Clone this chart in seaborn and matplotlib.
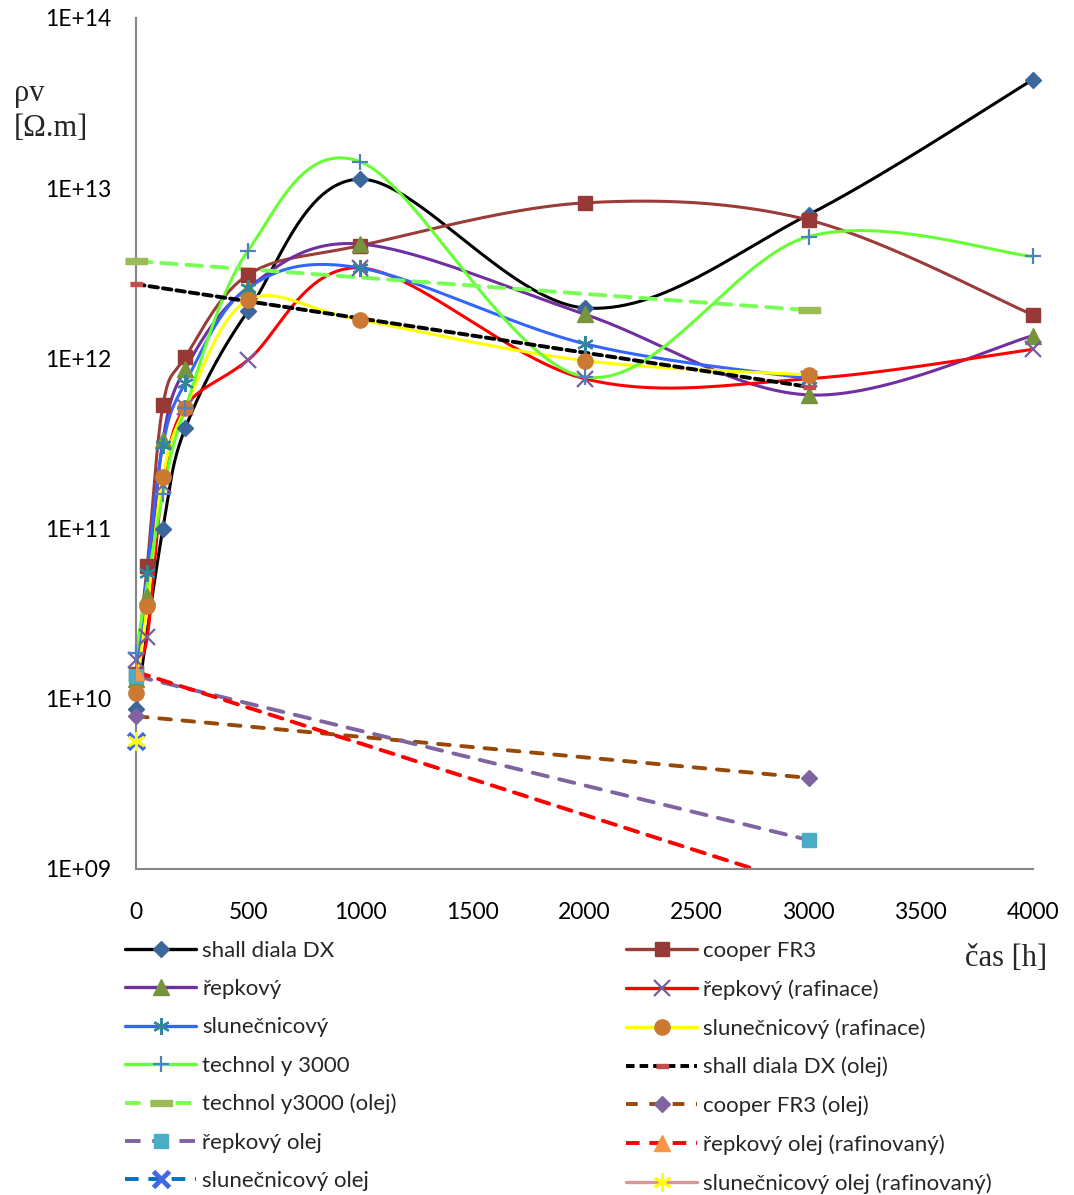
import numpy as np
import seaborn as sns
import matplotlib
matplotlib.use('Agg')
import matplotlib.pyplot as plt
from matplotlib.lines import Line2D
from matplotlib.ticker import FixedLocator, FuncFormatter

# --- data (hours, volume resistivity in Ohm.m) ---
shell_x = [0, 120, 220, 500, 1000, 2000, 3000, 4000]
shell_y = [8.7e9, 1.0e11, 3.9e11, 1.9e12, 1.13e13, 1.98e12, 7.0e12, 4.35e13]

cooper_x = [0, 50, 120, 220, 500, 1000, 2000, 3000, 4000]
cooper_y = [1.4e10, 6.0e10, 5.3e11, 1.02e12, 3.1e12, 4.6e12, 8.2e12, 6.5e12, 1.8e12]

repka_x = [0, 50, 120, 220, 500, 1000, 2000, 3000, 4000]
repka_y = [1.3e10, 4.0e10, 3.3e11, 8.7e11, 2.6e12, 4.7e12, 1.82e12, 6.1e11, 1.36e12]

repka_raf_x = [0, 50, 120, 220, 500, 1000, 2000, 3000, 4000]
repka_raf_y = [1.7e10, 2.3e10, 1.8e11, 5.2e11, 9.8e11, 3.4e12, 7.6e11, 7.6e11, 1.13e12]

sun_x = [0, 50, 120, 220, 500, 1000, 2000, 3000]
sun_y = [1.35e10, 5.5e10, 3.1e11, 7.2e11, 2.6e12, 3.4e12, 1.22e12, 7.6e11]

sun_raf_x = [0, 50, 120, 220, 500, 1000, 2000, 3000]
sun_raf_y = [1.08e10, 3.5e10, 2.0e11, 5.1e11, 2.2e12, 1.68e12, 9.7e11, 8.0e11]

tech_x = [0, 120, 220, 500, 1000, 2000, 3000, 4000]
tech_y = [1.86e10, 1.6e11, 5.1e11, 4.3e12, 1.43e13, 7.8e11, 5.2e12, 3.97e12]

# oil-only reference series (straight dashed lines)
oil_x = [0, 3000]
shell_oil_y = [2.73e12, 6.8e11]
tech_oil_y = [3.73e12, 1.92e12]
cooper_oil_y = [7.9e9, 3.43e9]
repka_oil_y = [1.36e10, 1.48e9]
repka_raf_oil_y = [1.44e10, 7.9e8]
sun_oil_x = [0]
sun_oil_y = [5.65e9]
sun_raf_oil_y = [5.65e9]

labels = ['shall diala DX', 'cooper FR3', 'řepkový', 'řepkový (rafinace)',
          'slunečnicový', 'slunečnicový (rafinace)', 'technol y 3000',
          'shall diala DX (olej)', 'technol y3000 (olej)', 'cooper FR3 (olej)',
          'řepkový olej', 'řepkový olej (rafinovaný)', 'slunečnicový olej',
          'slunečnicový olej (rafinovaný)']
y_ticks = [1e9, 1e10, 1e11, 1e12, 1e13, 1e14]
x_ticks = list(range(0, 4001, 500))
Y_MIN, Y_MAX = 1e9, 1e14


def smooth(xs, ys, n=60):
    """Excel-like smoothed line: cubic Bezier through points (log y space)."""
    pts = np.column_stack([np.asarray(xs, float), np.log10(ys)])
    ext = np.vstack([pts[0], pts, pts[-1]])
    t = np.linspace(0, 1, n)[:, None]
    segs = []
    for i in range(len(pts) - 1):
        p0, p1, p2, p3 = ext[i], ext[i + 1], ext[i + 2], ext[i + 3]
        c1 = p1 + (p2 - p0) / 6
        c2 = p2 - (p3 - p1) / 6
        segs.append((1 - t) ** 3 * p1 + 3 * (1 - t) ** 2 * t * c1
                    + 3 * (1 - t) * t ** 2 * c2 + t ** 3 * p2)
    s = np.vstack(segs)
    return s[:, 0], 10 ** s[:, 1]


sns.set_theme(style='white')
plt.rcParams['font.family'] = ['Lato', 'DejaVu Sans']

fig = plt.figure(figsize=(10.74, 11.95), dpi=100)
ax = fig.add_axes([136 / 1074, 1 - 869 / 1195, (1033 - 136) / 1074, (869 - 18) / 1195])

rect_wide = [(-1, -0.3), (1, -0.3), (1, 0.3), (-1, 0.3)]

# style per series: line colour, line style, marker, marker colour, marker size, marker edge width
styles = [
    dict(color='black', ls='-', marker='D', mc='#3B679C', ms=8, mew=1),
    dict(color='#9A3C38', ls='-', marker='s', mc='#973A36', ms=10, mew=1),
    dict(color='#7030A0', ls='-', marker='^', mc='#77933C', ms=11, mew=1),
    dict(color='#FF0000', ls='-', marker='x', mc='#7A5C9C', ms=11, mew=1.6),
    dict(color='#3366FF', ls='-', marker=(6, 2, 0), mc='#31859C', ms=12, mew=1.6),
    dict(color='#FFFF00', ls='-', marker='o', mc='#CC7A33', ms=11, mew=1),
    dict(color='#66FF33', ls='-', marker='+', mc='#4F81BD', ms=12, mew=1.6),
    dict(color='black', ls=(0, (2.2, 1.3)), marker=rect_wide, mc='#C0504D', ms=9, mew=1),
    dict(color='#77FF55', ls=(0, (4, 2.5)), marker=rect_wide, mc='#9BBB59', ms=16, mew=1),
    dict(color='#984807', ls=(0, (3, 3)), marker='D', mc='#8064A2', ms=8, mew=1),
    dict(color='#8064A2', ls=(0, (4, 3)), marker='s', mc='#4BACC6', ms=10, mew=1),
    dict(color='#FF0000', ls=(0, (3.5, 2.5)), marker='^', mc='#F79646', ms=12, mew=1),
    dict(color='#0070C0', ls=(0, (3.5, 2.5)), marker='x', mc='#4169E1', ms=12, mew=3.5),
    dict(color='#D99694', ls='-', marker=(6, 2, 0), mc='#FFFF00', ms=13, mew=1.8),
]

smooth_series = [(shell_x, shell_y), (cooper_x, cooper_y), (repka_x, repka_y),
                 (repka_raf_x, repka_raf_y), (sun_x, sun_y), (sun_raf_x, sun_raf_y),
                 (tech_x, tech_y)]
straight_series = [(oil_x, shell_oil_y), (oil_x, tech_oil_y), (oil_x, cooper_oil_y),
                   (oil_x, repka_oil_y), (oil_x, repka_raf_oil_y),
                   (sun_oil_x, sun_oil_y), (sun_oil_x, sun_raf_oil_y)]


def draw_markers(xs, ys, st, z):
    # markers on the y axis must not be cut in half; only clip series leaving the range
    inside = all(Y_MIN <= v <= Y_MAX for v in ys)
    ax.plot(xs, ys, ls='none', marker=st['marker'], ms=st['ms'], color=st['mc'],
            mec=st['mc'], mew=st['mew'], zorder=z, clip_on=not inside)


for i, (xs, ys) in enumerate(smooth_series):
    st = styles[i]
    sx, sy = smooth(xs, ys)
    sns.lineplot(x=sx, y=sy, sort=False, estimator=None, color=st['color'],
                 lw=2.2, ax=ax, zorder=2 + i * 0.01)
    draw_markers(xs, ys, st, 3 + i * 0.01)

for j, (xs, ys) in enumerate(straight_series):
    st = styles[7 + j]
    if len(xs) > 1:
        ax.plot(xs, ys, ls=st['ls'], color=st['color'], lw=2.8,
                dash_capstyle='round', zorder=2.5)
    draw_markers(xs, ys, st, 3.5 + j * 0.01)

ax.set_yscale('log')
ax.set_ylim(Y_MIN, Y_MAX)
ax.set_xlim(0, 4000)
ax.yaxis.set_major_locator(FixedLocator(y_ticks))
ax.yaxis.set_minor_locator(FixedLocator([]))
ax.yaxis.set_major_formatter(FuncFormatter(lambda v, p: '1E+%02d' % round(np.log10(v))))
ax.set_xticks(x_ticks)
ax.tick_params(axis='both', length=0, labelsize=16.5, colors='black')
ax.tick_params(axis='y', pad=18)
ax.tick_params(axis='x', pad=24)
for side in ['top', 'right']:
    ax.spines[side].set_visible(False)
for side in ['left', 'bottom']:
    ax.spines[side].set_color('#868686')
    ax.spines[side].set_linewidth(1.5)
ax.grid(False)

fig.text(14 / 1074, 1 - 93 / 1195, 'ρv', family='Liberation Serif',
         fontsize=22, va='center', ha='left')
fig.text(14 / 1074, 1 - 129 / 1195, '[Ω.m]', family='Liberation Serif',
         fontsize=22, va='center', ha='left')
fig.text(965 / 1074, 1 - 958 / 1195, 'čas [h]', family='Liberation Serif',
         fontsize=22, va='center', ha='left')

# legend handles, two columns filled row by row
handles = []
for i, st in enumerate(styles):
    dashed = i >= 7 and i != 13
    handles.append(Line2D([], [], color=st['color'], ls=st['ls'],
                          lw=2.8 if dashed else 2.4, marker=st['marker'],
                          ms=st['ms'], mfc=st['mc'], mec=st['mc'], mew=st['mew']))

leg_kw = dict(frameon=False, fontsize=16, handlelength=3.2, handletextpad=0.28,
              labelspacing=0.82, borderpad=0, borderaxespad=0, loc='upper left',
              numpoints=1)
leg1 = fig.legend(handles[0::2], labels[0::2],
                  bbox_to_anchor=(125 / 1074, 1 - 941 / 1195), **leg_kw)
leg2 = fig.legend(handles[1::2], labels[1::2],
                  bbox_to_anchor=(626 / 1074, 1 - 941 / 1195), **leg_kw)

fig.savefig('out.png', dpi=100, facecolor='white')
plt.close(fig)
